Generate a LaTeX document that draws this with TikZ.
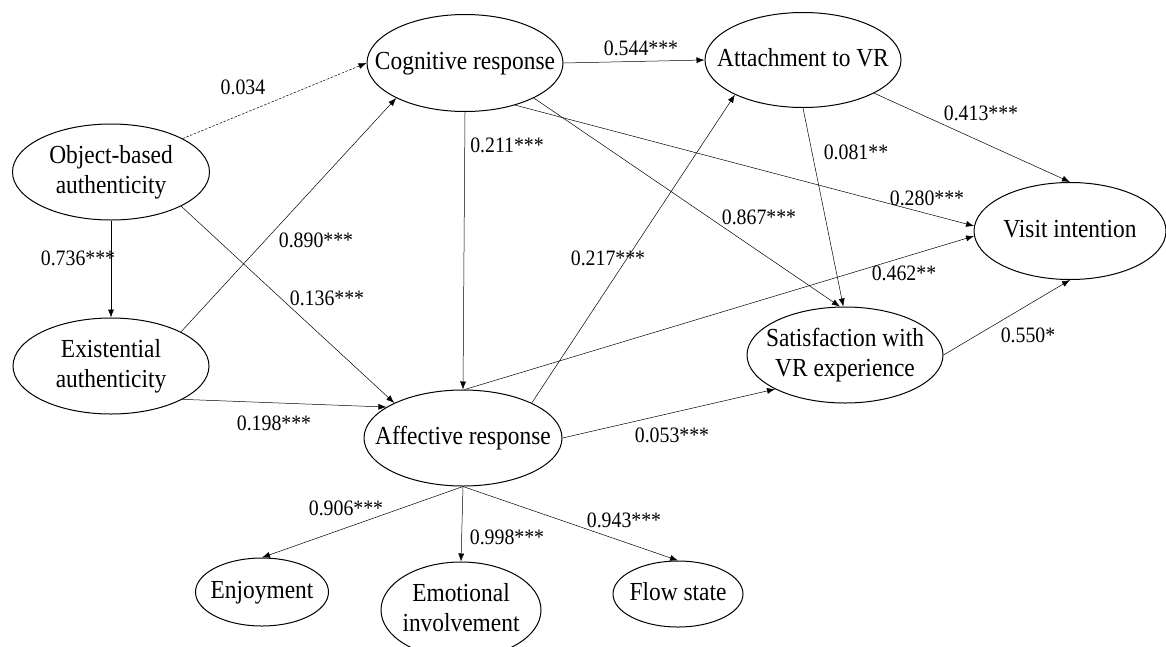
\documentclass[tikz,border=0pt]{standalone}
\usepackage{fontspec}
\setmainfont{Liberation Serif}
\newfontfamily\narrowserif[FakeStretch=0.9]{Liberation Serif}
\usetikzlibrary{shapes.geometric,arrows.meta}
\newcommand{\inell}[1]{\makebox[0pt]{\begin{tabular}{@{}c@{}}#1\end{tabular}}}

\begin{document}
\begin{tikzpicture}[x=1pt, y=-1pt, >={Latex[length=8pt,width=6pt]},
  latent/.style={ellipse, draw, line width=1pt, inner sep=0pt,
    font=\narrowserif\fontsize{26}{30}\selectfont},
  link/.style={->, line width=0.5pt},
  coef/.style={inner sep=1pt, font=\narrowserif\fontsize{22}{24}\selectfont}]
\useasboundingbox (0,0) rectangle (1166,646);

% Constructs
\node[latent, minimum width=196pt, minimum height=97pt] (cog) at (465,63) {\inell{Cognitive response}};
\node[latent, minimum width=196pt, minimum height=95pt] (att) at (803,60) {\inell{Attachment to VR}};
\node[latent, minimum width=197pt, minimum height=96pt] (obj) at (111,172) {\inell{Object-based\\authenticity}};
\node[latent, minimum width=196pt, minimum height=96pt] (exi) at (111,366) {\inell{Existential\\authenticity}};
\node[latent, minimum width=192pt, minimum height=97pt] (vis) at (1070,231) {\inell{Visit intention}};
\node[latent, minimum width=196pt, minimum height=96pt] (sat) at (845,355) {\inell{Satisfaction with\\VR experience}};
\node[latent, minimum width=198pt, minimum height=96pt] (aff) at (463,438) {\inell{Affective response}};

% Dimensions of affective response
\node[latent, minimum width=133pt, minimum height=68pt] (enj) at (262,592) {\inell{Enjoyment}};
\node[latent, minimum width=160pt, minimum height=96pt] (emo) at (461,610) {\inell{Emotional\\involvement}};
\node[latent, minimum width=130pt, minimum height=66pt] (flo) at (678,594) {\inell{Flow state}};

% Paths
\draw[link, dash pattern=on 2.5pt off 1.5pt] (obj.25) -- (cog.180);
\draw[link] (obj.south) -- (exi.north);
\draw[link] (obj.-26) -- (aff.153);
\draw[link] (exi.26) -- (cog.207);
\draw[link] (exi.-25) -- (aff.158);
\draw[link] (cog.east) -- (att.west);
\draw[link] (cog.south) -- (aff.north);
\draw[link] (cog.-27) -- (sat.96);
\draw[link] (cog.-40) -- (vis.177);
\draw[link] (att.-25) -- (vis.north);
\draw[link] (att.south) -- (sat.92);
\draw[link] (aff.27) -- (att.207);
\draw[link] (aff.88) -- (vis.183);
\draw[link] (aff.east) -- (sat.206);
\draw[link] (sat.east) -- (vis.south);
\draw[link] (aff.south) -- (enj.north);
\draw[link] (aff.south) -- (emo.north);
\draw[link] (aff.south) -- (flo.north);

% Coefficients
\node[coef] (c034) at (243,87) {0.034};
\node[coef] (c544) at (641,48) {0.544***};
\node[coef] (c211) at (507,145) {0.211***};
\node[coef] (c736) at (78,258) {0.736***};
\node[coef] (c890) at (316,240) {0.890***};
\node[coef] (c136) at (327,298) {0.136***};
\node[coef] (c198) at (274,423) {0.198***};
\node[coef] (c217) at (608,258) {0.217***};
\node[coef] (c867) at (759,217) {0.867***};
\node[coef] (c081) at (856,152) {0.081**};
\node[coef] (c413) at (981,113) {0.413***};
\node[coef] (c280) at (927,198) {0.280***};
\node[coef] (c462) at (904,273) {0.462**};
\node[coef] (c550) at (1028,335) {0.550*};
\node[coef] (c053) at (672,435) {0.053***};
\node[coef] (c906) at (346,508) {0.906***};
\node[coef] (c998) at (507,537) {0.998***};
\node[coef] (c943) at (624,520) {0.943***};
\end{tikzpicture}
\end{document}
